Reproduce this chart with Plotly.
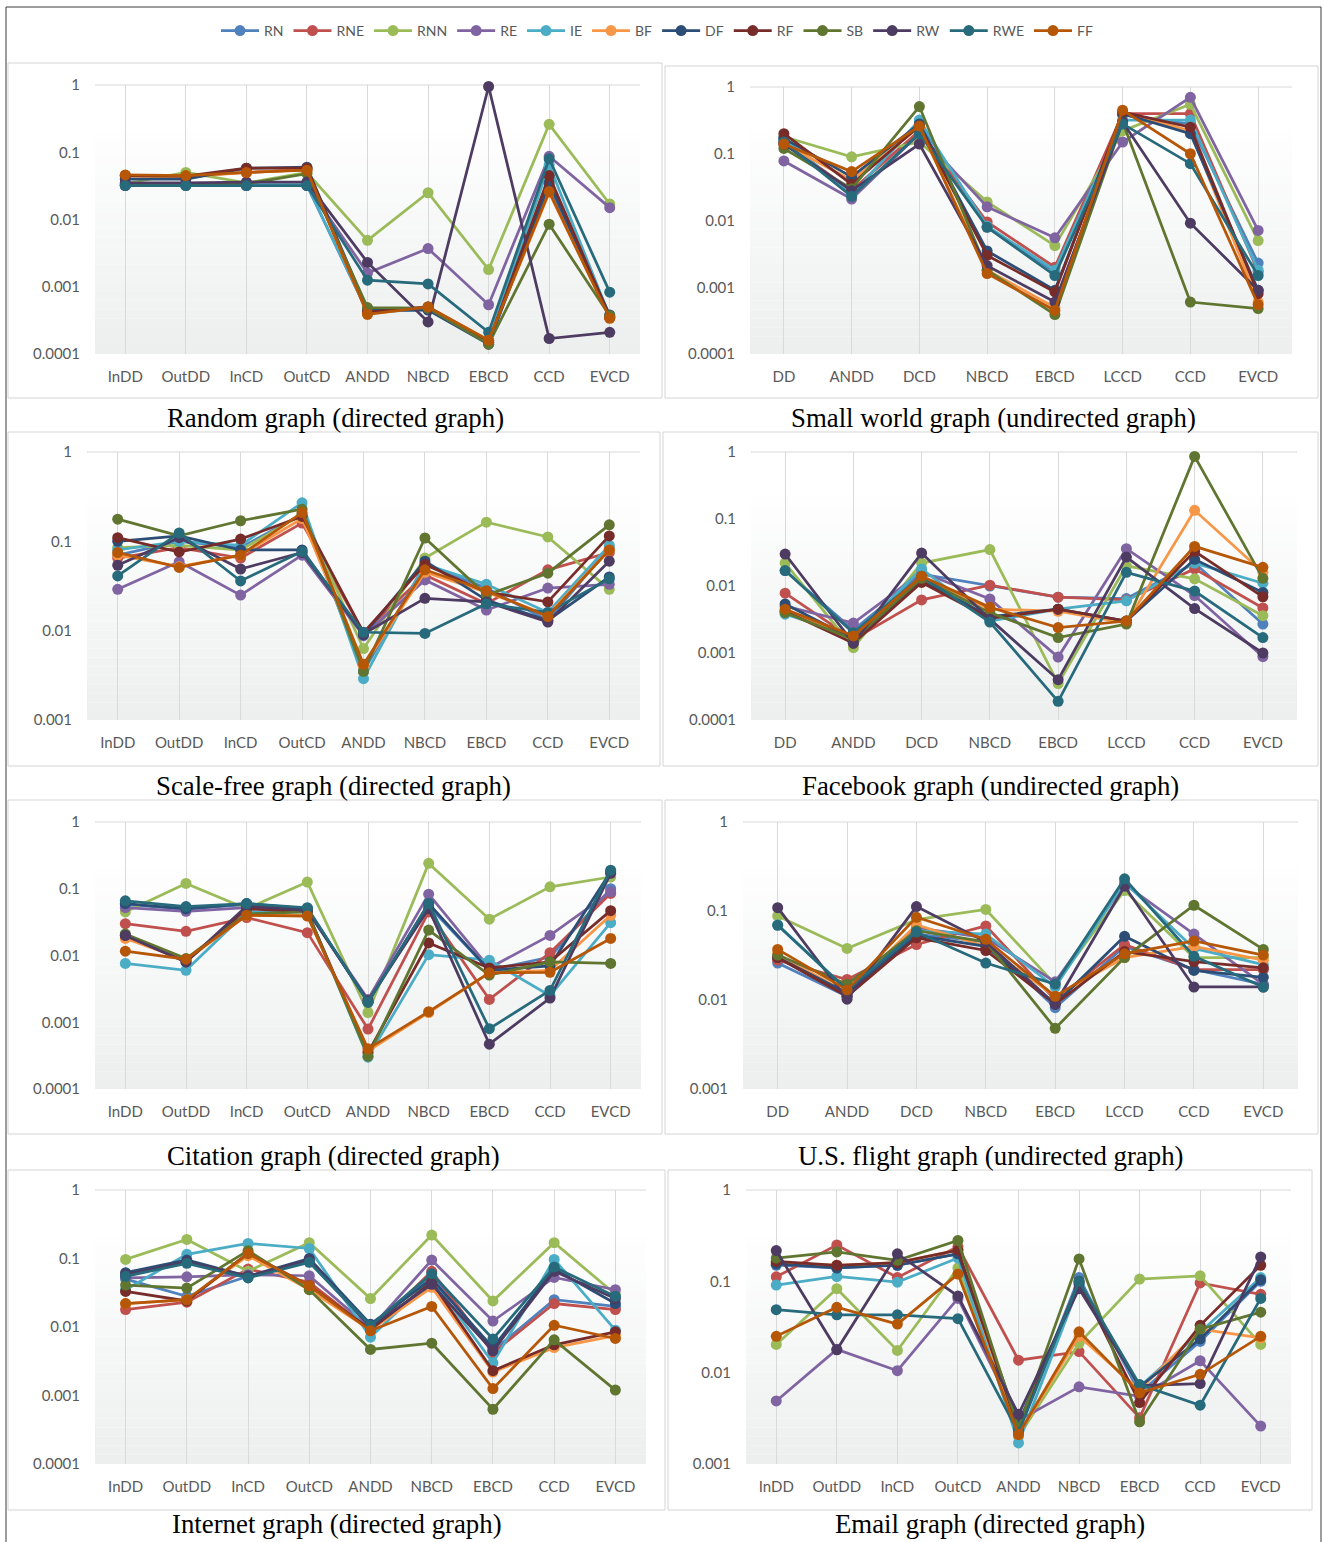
import plotly.graph_objects as go

# ---------------------------------------------------------------- data
SERIES = ["RN", "RNE", "RNN", "RE", "IE", "BF", "DF", "RF", "SB", "RW", "RWE", "FF"]

DIRECTED = ["InDD", "OutDD", "InCD", "OutCD", "ANDD", "NBCD", "EBCD", "CCD", "EVCD"]
UNDIRECTED = ["DD", "ANDD", "DCD", "NBCD", "EBCD", "LCCD", "CCD", "EVCD"]

RANDOM = {
    "RN":  [0.032, 0.032, 0.032, 0.032, 0.00042, 0.00046, 0.00015, 0.030, 0.00036],
    "RNE": [0.045, 0.044, 0.050, 0.055, 0.00041, 0.00050, 0.00015, 0.040, 0.00035],
    "RNN": [0.034, 0.050, 0.035, 0.050, 0.0049, 0.025, 0.0018, 0.26, 0.017],
    "RE":  [0.032, 0.032, 0.032, 0.032, 0.0016, 0.0037, 0.00054, 0.087, 0.015],
    "IE":  [0.033, 0.033, 0.033, 0.033, 0.00042, 0.00046, 0.00016, 0.065, 0.00036],
    "BF":  [0.044, 0.043, 0.050, 0.055, 0.00039, 0.00050, 0.00016, 0.025, 0.00035],
    "DF":  [0.040, 0.040, 0.058, 0.060, 0.00045, 0.00045, 0.00014, 0.035, 0.00038],
    "RF":  [0.045, 0.044, 0.058, 0.058, 0.00042, 0.00050, 0.00015, 0.045, 0.00035],
    "SB":  [0.033, 0.033, 0.034, 0.048, 0.00049, 0.00048, 0.00014, 0.0085, 0.00037],
    "RW":  [0.035, 0.035, 0.036, 0.036, 0.0023, 0.00030, 0.95, 0.00017, 0.00021],
    "RWE": [0.032, 0.032, 0.032, 0.032, 0.00125, 0.0011, 0.00021, 0.080, 0.00083],
    "FF":  [0.046, 0.045, 0.050, 0.054, 0.00039, 0.00050, 0.00016, 0.026, 0.00034],
}

SMALL_WORLD = {
    "RN":  [0.16, 0.025, 0.30, 0.0080, 0.0017, 0.38, 0.28, 0.0023],
    "RNE": [0.15, 0.028, 0.22, 0.0095, 0.0020, 0.40, 0.40, 0.0017],
    "RNN": [0.18, 0.090, 0.15, 0.019, 0.0042, 0.22, 0.55, 0.0050],
    "RE":  [0.078, 0.021, 0.20, 0.016, 0.0055, 0.15, 0.70, 0.0071],
    "IE":  [0.17, 0.024, 0.32, 0.0082, 0.0018, 0.32, 0.32, 0.0018],
    "BF":  [0.14, 0.040, 0.25, 0.0018, 0.0005, 0.42, 0.22, 0.0006],
    "DF":  [0.17, 0.045, 0.28, 0.0035, 0.0009, 0.40, 0.20, 0.0009],
    "RF":  [0.20, 0.035, 0.26, 0.0030, 0.00085, 0.42, 0.25, 0.0008],
    "SB":  [0.12, 0.030, 0.51, 0.0018, 0.00039, 0.30, 0.0006, 0.00048],
    "RW":  [0.14, 0.028, 0.14, 0.0021, 0.0006, 0.30, 0.0091, 0.0009],
    "RWE": [0.15, 0.023, 0.20, 0.0079, 0.0015, 0.28, 0.071, 0.0015],
    "FF":  [0.14, 0.054, 0.26, 0.0016, 0.00045, 0.45, 0.10, 0.00055],
}

SCALE_FREE = {
    "RN":  [0.070, 0.100, 0.085, 0.20, 0.0035, 0.055, 0.030, 0.013, 0.085],
    "RNE": [0.065, 0.085, 0.065, 0.16, 0.0095, 0.042, 0.020, 0.048, 0.075],
    "RNN": [0.085, 0.090, 0.080, 0.20, 0.0063, 0.065, 0.164, 0.112, 0.029],
    "RE":  [0.029, 0.059, 0.025, 0.070, 0.0088, 0.037, 0.017, 0.030, 0.033],
    "IE":  [0.080, 0.100, 0.090, 0.27, 0.0029, 0.055, 0.033, 0.016, 0.090],
    "BF":  [0.070, 0.052, 0.070, 0.18, 0.0040, 0.045, 0.027, 0.015, 0.080],
    "DF":  [0.100, 0.115, 0.080, 0.080, 0.0090, 0.060, 0.022, 0.013, 0.040],
    "RF":  [0.110, 0.076, 0.106, 0.19, 0.0095, 0.055, 0.027, 0.021, 0.115],
    "SB":  [0.177, 0.115, 0.170, 0.229, 0.0035, 0.109, 0.025, 0.044, 0.153],
    "RW":  [0.054, 0.110, 0.049, 0.075, 0.0092, 0.023, 0.021, 0.0125, 0.060],
    "RWE": [0.041, 0.124, 0.036, 0.077, 0.0096, 0.0093, 0.020, 0.016, 0.038],
    "FF":  [0.075, 0.051, 0.070, 0.21, 0.0042, 0.048, 0.028, 0.0144, 0.080],
}

FACEBOOK = {
    "RN":  [0.017, 0.0022, 0.015, 0.0100, 0.0068, 0.0065, 0.022, 0.0027],
    "RNE": [0.0078, 0.0016, 0.0062, 0.0103, 0.0068, 0.0062, 0.018, 0.0047],
    "RNN": [0.022, 0.0012, 0.022, 0.035, 0.00035, 0.020, 0.0128, 0.0036],
    "RE":  [0.005, 0.0028, 0.016, 0.0064, 0.00087, 0.036, 0.0072, 0.00088],
    "IE":  [0.0038, 0.0018, 0.018, 0.0030, 0.0045, 0.0060, 0.022, 0.011],
    "BF":  [0.0042, 0.0017, 0.013, 0.0045, 0.0042, 0.0028, 0.135, 0.016],
    "DF":  [0.0054, 0.0016, 0.012, 0.0035, 0.0045, 0.0030, 0.025, 0.008],
    "RF":  [0.0042, 0.0014, 0.0113, 0.0033, 0.0045, 0.0030, 0.033, 0.0069],
    "SB":  [0.0040, 0.0016, 0.013, 0.0040, 0.0017, 0.0027, 0.86, 0.013],
    "RW":  [0.030, 0.0014, 0.031, 0.0032, 0.0004, 0.027, 0.0046, 0.0010],
    "RWE": [0.017, 0.0020, 0.014, 0.0029, 0.00019, 0.016, 0.0084, 0.0017],
    "FF":  [0.0045, 0.0018, 0.014, 0.0048, 0.0024, 0.0030, 0.039, 0.019],
}

CITATION = {
    "RN":  [0.058, 0.050, 0.058, 0.050, 0.0020, 0.055, 0.006, 0.0095, 0.10],
    "RNE": [0.030, 0.023, 0.037, 0.022, 0.00079, 0.045, 0.0022, 0.011, 0.085],
    "RNN": [0.045, 0.12, 0.050, 0.126, 0.0014, 0.24, 0.035, 0.107, 0.15],
    "RE":  [0.052, 0.046, 0.052, 0.048, 0.0022, 0.083, 0.0065, 0.020, 0.09],
    "IE":  [0.0076, 0.0060, 0.045, 0.045, 0.0003, 0.0103, 0.0085, 0.0025, 0.031],
    "BF":  [0.018, 0.0085, 0.040, 0.040, 0.00037, 0.0014, 0.0055, 0.006, 0.040],
    "DF":  [0.060, 0.050, 0.060, 0.050, 0.0020, 0.060, 0.006, 0.007, 0.18],
    "RF":  [0.020, 0.008, 0.050, 0.045, 0.00035, 0.0154, 0.0065, 0.008, 0.047],
    "SB":  [0.021, 0.009, 0.042, 0.045, 0.00031, 0.024, 0.0051, 0.008, 0.0076],
    "RW":  [0.020, 0.008, 0.055, 0.047, 0.0021, 0.050, 0.00047, 0.0023, 0.17],
    "RWE": [0.066, 0.054, 0.060, 0.052, 0.0020, 0.060, 0.0008, 0.0030, 0.19],
    "FF":  [0.0116, 0.0088, 0.040, 0.039, 0.0004, 0.00144, 0.0055, 0.0056, 0.018],
}

FLIGHT = {
    "RN":  [0.026, 0.011, 0.055, 0.045, 0.0082, 0.040, 0.022, 0.015],
    "RNE": [0.028, 0.017, 0.042, 0.068, 0.010, 0.042, 0.022, 0.022],
    "RNN": [0.088, 0.038, 0.080, 0.104, 0.015, 0.17, 0.030, 0.030],
    "RE":  [0.030, 0.011, 0.065, 0.050, 0.016, 0.20, 0.055, 0.015],
    "IE":  [0.070, 0.013, 0.060, 0.055, 0.014, 0.21, 0.038, 0.025],
    "BF":  [0.033, 0.012, 0.070, 0.040, 0.011, 0.030, 0.040, 0.028],
    "DF":  [0.030, 0.012, 0.053, 0.040, 0.009, 0.052, 0.0215, 0.018],
    "RF":  [0.030, 0.011, 0.050, 0.036, 0.009, 0.035, 0.027, 0.023],
    "SB":  [0.032, 0.015, 0.060, 0.045, 0.0048, 0.030, 0.116, 0.037],
    "RW":  [0.109, 0.0102, 0.112, 0.045, 0.009, 0.19, 0.014, 0.014],
    "RWE": [0.069, 0.013, 0.058, 0.026, 0.0151, 0.23, 0.031, 0.014],
    "FF":  [0.037, 0.013, 0.085, 0.048, 0.011, 0.033, 0.046, 0.032],
}

INTERNET = {
    "RN":  [0.050, 0.028, 0.055, 0.090, 0.010, 0.055, 0.0045, 0.025, 0.020],
    "RNE": [0.018, 0.023, 0.070, 0.045, 0.009, 0.065, 0.0042, 0.022, 0.018],
    "RNN": [0.097, 0.19, 0.065, 0.17, 0.026, 0.22, 0.024, 0.17, 0.030],
    "RE":  [0.052, 0.054, 0.058, 0.056, 0.0095, 0.095, 0.0122, 0.053, 0.035],
    "IE":  [0.035, 0.115, 0.166, 0.14, 0.0071, 0.050, 0.003, 0.097, 0.009],
    "BF":  [0.022, 0.025, 0.110, 0.035, 0.009, 0.038, 0.0022, 0.005, 0.0075],
    "DF":  [0.062, 0.095, 0.055, 0.100, 0.011, 0.050, 0.005, 0.070, 0.022],
    "RF":  [0.033, 0.024, 0.120, 0.040, 0.0092, 0.045, 0.0023, 0.0055, 0.0085],
    "SB":  [0.041, 0.037, 0.130, 0.035, 0.0047, 0.0058, 0.00063, 0.0065, 0.0012],
    "RW":  [0.058, 0.090, 0.055, 0.095, 0.010, 0.042, 0.0045, 0.065, 0.026],
    "RWE": [0.055, 0.085, 0.052, 0.088, 0.0105, 0.060, 0.0067, 0.075, 0.028],
    "FF":  [0.022, 0.025, 0.118, 0.040, 0.0088, 0.020, 0.00126, 0.0106, 0.0068],
}

EMAIL = {
    "RN":  [0.15, 0.14, 0.15, 0.20, 0.0023, 0.11, 0.006, 0.022, 0.10],
    "RNE": [0.112, 0.25, 0.11, 0.24, 0.0137, 0.017, 0.0032, 0.096, 0.072],
    "RNN": [0.0204, 0.083, 0.0175, 0.14, 0.0020, 0.021, 0.106, 0.115, 0.0204],
    "RE":  [0.0049, 0.018, 0.0105, 0.065, 0.0030, 0.0070, 0.0055, 0.0135, 0.0026],
    "IE":  [0.091, 0.113, 0.098, 0.18, 0.0017, 0.090, 0.007, 0.028, 0.11],
    "BF":  [0.16, 0.15, 0.16, 0.22, 0.0021, 0.025, 0.0065, 0.030, 0.024],
    "DF":  [0.155, 0.14, 0.15, 0.20, 0.0028, 0.095, 0.007, 0.0234, 0.104],
    "RF":  [0.165, 0.15, 0.16, 0.22, 0.0024, 0.100, 0.0047, 0.033, 0.15],
    "SB":  [0.18, 0.21, 0.17, 0.28, 0.0025, 0.176, 0.0029, 0.030, 0.046],
    "RW":  [0.217, 0.0178, 0.20, 0.069, 0.0035, 0.083, 0.0072, 0.0076, 0.185],
    "RWE": [0.049, 0.043, 0.043, 0.039, 0.0022, 0.10, 0.0074, 0.0044, 0.065],
    "FF":  [0.025, 0.052, 0.034, 0.12, 0.0021, 0.028, 0.006, 0.0096, 0.025],
}

TITLES = [
    "Random graph (directed graph)", "Small world graph (undirected graph)",
    "Scale-free graph (directed graph)", "Facebook graph (undirected graph)",
    "Citation graph (directed graph)", "U.S. flight graph (undirected graph)",
    "Internet graph (directed graph)", "Email graph (directed graph)",
]

# ---------------------------------------------------------------- style
COLORS = {
    "RN": "#4F81BD", "RNE": "#C0504D", "RNN": "#9BBB59", "RE": "#8064A2",
    "IE": "#4BACC6", "BF": "#F79646", "DF": "#2C4D75", "RF": "#772C2A",
    "SB": "#5F7530", "RW": "#4D3B62", "RWE": "#276A7C", "FF": "#B65708",
}

W, H = 1323, 1542
AXIS_FONT = dict(family="Lato, Open Sans, sans-serif", size=15, color="#595959")


def fx(px):
    return px / W


def fy(py):
    return 1 - py / H


# (data, categories, lowest decade, plot rect l,t,r,b, box rect l,t,r,b, title centre)
PANELS = [
    (RANDOM, DIRECTED, -4, (95, 85, 640, 354), (8, 63, 662, 398), (335, 418)),
    (SMALL_WORLD, UNDIRECTED, -4, (750, 87, 1292, 354), (665, 66, 1318, 398), (993, 418)),
    (SCALE_FREE, DIRECTED, -3, (87, 452, 640, 720), (8, 432, 660, 766), (333, 786)),
    (FACEBOOK, UNDIRECTED, -4, (751, 452, 1297, 720), (663, 432, 1318, 766), (990, 786)),
    (CITATION, DIRECTED, -4, (95, 822, 641, 1089), (8, 800, 662, 1134), (333, 1156)),
    (FLIGHT, UNDIRECTED, -3, (743, 822, 1298, 1089), (665, 800, 1318, 1134), (990, 1156)),
    (INTERNET, DIRECTED, -4, (95, 1190, 646, 1464), (8, 1170, 665, 1510), (337, 1524)),
    (EMAIL, DIRECTED, -3, (746, 1190, 1291, 1464), (668, 1170, 1312, 1510), (990, 1524)),
]


def decade_label(k):
    return "1" if k == 0 else "0." + "0" * (-k - 1) + "1"


def mix(c0, c1, t):
    return "rgb(%d,%d,%d)" % tuple(round(a + (b - a) * t) for a, b in zip(c0, c1))


fig = go.Figure()
layout = {}
shapes = []
annotations = []

for i, (data, cats, lo, plot, box, tpos) in enumerate(PANELS, start=1):
    sfx = "" if i == 1 else str(i)
    xref, yref = "x" + sfx, "y" + sfx

    for s in SERIES:
        fig.add_trace(go.Scatter(
            x=cats, y=data[s], name=s, legendgroup=s, showlegend=(i == 1),
            mode="lines+markers", cliponaxis=False,
            line=dict(color=COLORS[s], width=2.75),
            marker=dict(color=COLORS[s], size=11),
            xaxis=xref, yaxis=yref,
        ))

    layout["xaxis" + sfx] = dict(
        domain=[fx(plot[0]), fx(plot[2])], anchor=yref,
        type="category", categoryarray=cats, categoryorder="array",
        range=[-0.5, len(cats) - 0.5],
        showgrid=True, gridcolor="#D9D9D9", gridwidth=1,
        zeroline=False, showline=False, ticks="",
        tickfont=AXIS_FONT, ticklabelstandoff=12, fixedrange=True,
    )
    decades = list(range(lo, 1))
    layout["yaxis" + sfx] = dict(
        domain=[fy(plot[3]), fy(plot[1])], anchor=xref,
        type="log", range=[lo, 0],
        tickvals=[10.0 ** k for k in decades],
        ticktext=[decade_label(k) for k in decades],
        showgrid=False, zeroline=False, showline=False, ticks="",
        tickfont=AXIS_FONT, ticklabelstandoff=14, fixedrange=True,
    )

    # soft white-to-grey plot area fill
    xd, yd = xref + " domain", yref + " domain"
    bands = 30
    for j in range(bands):
        t = j / (bands - 1)
        g = 0.0 if t < 0.12 else (t - 0.12) / 0.88
        shapes.append(dict(
            type="rect", xref=xd, yref=yd, x0=0, x1=1,
            y0=1 - (j + 1) / bands, y1=1 - j / bands,
            fillcolor=mix((255, 255, 255), (237, 239, 239), g),
            line=dict(width=0), layer="below",
        ))
    shapes.append(dict(type="line", xref=xd, yref=yd, x0=0, x1=1, y0=1, y1=1,
                       line=dict(color="#D9D9D9", width=1), layer="below"))

    # panel frame
    shapes.append(dict(type="rect", xref="paper", yref="paper",
                       x0=fx(box[0]), x1=fx(box[2]), y0=fy(box[3]), y1=fy(box[1]),
                       line=dict(color="#D4D4D4", width=1), fillcolor="rgba(0,0,0,0)"))

    annotations.append(dict(
        text=TITLES[i - 1], xref="paper", yref="paper",
        x=fx(tpos[0]), y=fy(tpos[1]), xanchor="center", yanchor="middle",
        showarrow=False,
        font=dict(family="Liberation Serif, Times New Roman, serif", size=26.8, color="#000000"),
    ))

# outer frame
shapes.append(dict(type="rect", xref="paper", yref="paper",
                   x0=fx(6), x1=fx(1321), y0=fy(1545), y1=fy(7),
                   line=dict(color="#3A3A3A", width=1), fillcolor="rgba(0,0,0,0)"))

fig.update_layout(
    width=W, height=H, autosize=False,
    margin=dict(l=0, r=0, t=0, b=0, pad=0, autoexpand=False),
    paper_bgcolor="white", plot_bgcolor="rgba(0,0,0,0)",
    shapes=shapes, annotations=annotations,
    showlegend=True,
    legend=dict(orientation="h", x=fx(657), xanchor="center", y=fy(31), yanchor="middle",
                font=dict(family="Lato, Open Sans, sans-serif", size=14, color="#595959"),
                bgcolor="rgba(0,0,0,0)", itemwidth=38, traceorder="normal"),
    **layout,
)

fig.write_html("out.html")
